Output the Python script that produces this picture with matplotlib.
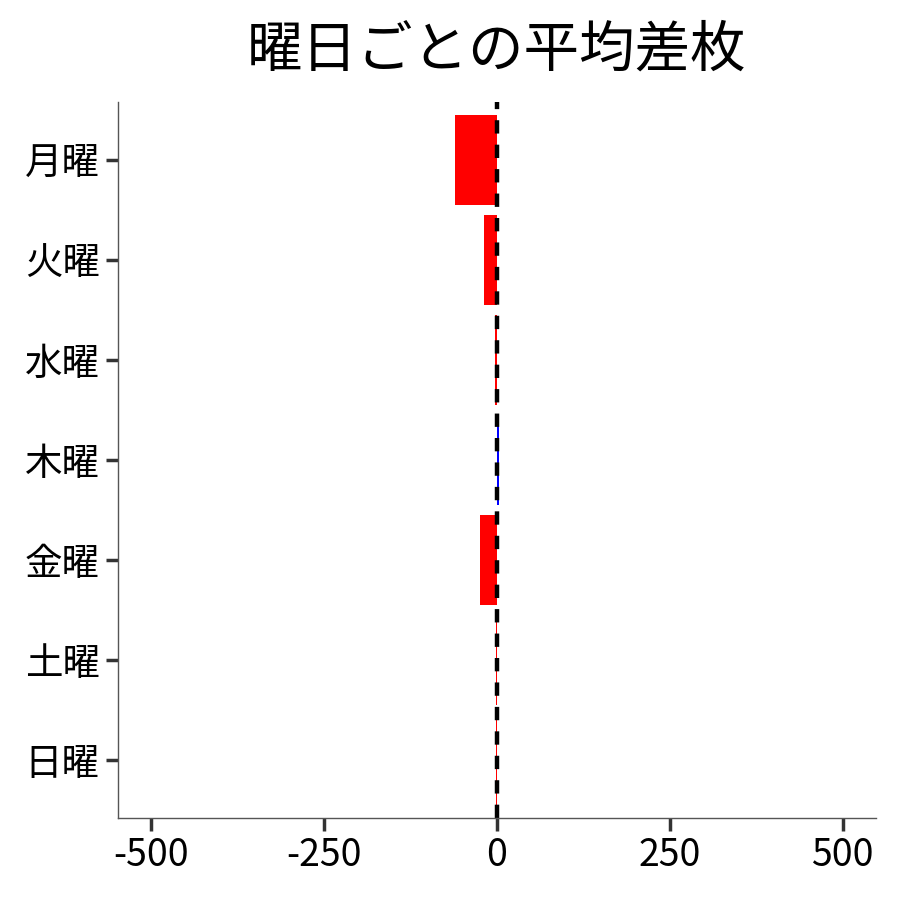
import matplotlib.pyplot as plt

plt.rcParams['font.family'] = ['Noto Sans CJK JP', 'DejaVu Sans']

days = ['月曜', '火曜', '水曜', '木曜', '金曜', '土曜', '日曜']
avg_diff = [-60, -19, -3, 3, -25, -1, -1]

colors = ['blue' if v > 0 else 'red' for v in avg_diff]
pos = list(range(len(days)))

fig, ax = plt.subplots(figsize=(9, 9), dpi=100)
fig.subplots_adjust(left=0.131, right=0.973, top=0.887, bottom=0.091)

ax.barh(pos, avg_diff, height=0.9, color=colors)
ax.axvline(0, color='black', linestyle='--', linewidth=3.2, dashes=(3, 2.5))

ax.set_yticks(pos)
ax.set_yticklabels(days)
ax.set_ylim(6.58, -0.58)
ax.set_xlim(-548, 548)
ax.set_xticks([-500, -250, 0, 250, 500])
ax.set_xticklabels(['-500', '-250', '0', '250', '500'])

ax.tick_params(axis='both', labelsize=27, length=9, width=2.5, color='#333333', pad=4)
for s in ['top', 'right']:
    ax.spines[s].set_visible(False)
for s in ['left', 'bottom']:
    ax.spines[s].set_color('#555555')
    ax.spines[s].set_linewidth(1)

ax.set_title('曜日ごとの平均差枚', fontsize=40, pad=25)

fig.savefig('out.png')
